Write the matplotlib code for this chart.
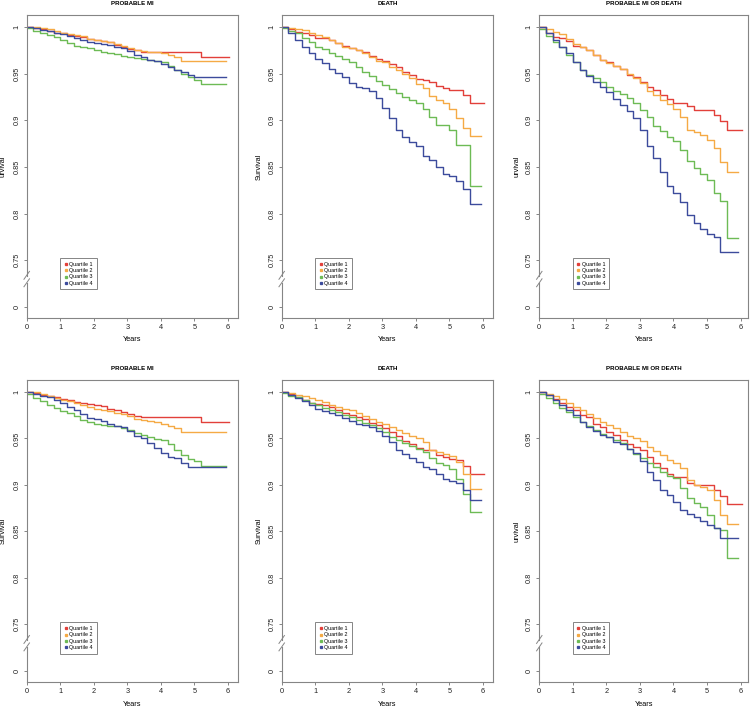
import matplotlib.pyplot as plt
from matplotlib.lines import Line2D

plt.rcParams['font.family'] = ['Liberation Sans', 'DejaVu Sans']

# time grid (years) and where each quartile's curve stops
years = [0.0, 0.2, 0.4, 0.6, 0.8, 1.0, 1.2, 1.4, 1.6, 1.8,
         2.0, 2.2, 2.4, 2.6, 2.8, 3.0, 3.2, 3.4, 3.6, 3.8,
         4.0, 4.2, 4.4, 4.6, 4.8, 5.0, 5.2, 5.4, 5.6, 5.8]
end_years = [6.03, 5.93, 5.93, 5.93]

quartiles = ['Quartile 1', 'Quartile 2', 'Quartile 3', 'Quartile 4']
colors = ['#e2403a', '#f5aa45', '#6dbb55', '#3c4b9c']
titles = ['PROBABLE MI', 'DEATH', 'PROBABLE MI OR DEATH']
ylabels_top = ['urvival', 'Survival', 'urvival']
ylabels_bottom = ['Survival', 'Survival', 'urvival']

ytick_pos = [0.70, 0.75, 0.80, 0.85, 0.90, 0.95, 1.00]
ytick_lab = ['0', '0.75', '0.8', '0.85', '0.9', '0.95', '1']
xtick_pos = [0, 1, 2, 3, 4, 5, 6]

# ---- top row ----
top_mi_q1 = [1.0, 0.999, 0.998, 0.996, 0.994, 0.993, 0.991, 0.990, 0.989, 0.987,
             0.986, 0.985, 0.984, 0.981, 0.978, 0.976, 0.975, 0.973, 0.973, 0.973,
             0.973, 0.973, 0.973, 0.973, 0.973, 0.973, 0.968, 0.968, 0.968, 0.968]
top_mi_q2 = [1.0, 1.0, 0.999, 0.998, 0.996, 0.994, 0.992, 0.991, 0.990, 0.987,
             0.986, 0.985, 0.984, 0.982, 0.980, 0.977, 0.975, 0.974, 0.9735, 0.973,
             0.972, 0.970, 0.968, 0.964, 0.963, 0.963, 0.963, 0.963, 0.963, 0.963]
top_mi_q3 = [0.999, 0.996, 0.994, 0.991, 0.989, 0.986, 0.983, 0.980, 0.978, 0.977,
             0.975, 0.973, 0.972, 0.971, 0.969, 0.968, 0.967, 0.966, 0.965, 0.963,
             0.962, 0.958, 0.954, 0.950, 0.946, 0.943, 0.939, 0.939, 0.939, 0.939]
top_mi_q4 = [1.0, 0.999, 0.997, 0.996, 0.994, 0.992, 0.990, 0.988, 0.986, 0.984,
             0.983, 0.982, 0.981, 0.978, 0.977, 0.974, 0.970, 0.968, 0.965, 0.963,
             0.960, 0.957, 0.954, 0.952, 0.949, 0.946, 0.946, 0.946, 0.946, 0.946]

top_death_q1 = [1.0, 0.998, 0.995, 0.994, 0.991, 0.988, 0.988, 0.986, 0.983, 0.980,
                0.977, 0.975, 0.973, 0.969, 0.966, 0.963, 0.960, 0.957, 0.952, 0.948,
                0.944, 0.943, 0.941, 0.937, 0.935, 0.932, 0.932, 0.927, 0.919, 0.919]
top_death_q2 = [1.0, 0.999, 0.998, 0.997, 0.994, 0.991, 0.989, 0.986, 0.983, 0.979,
                0.977, 0.975, 0.972, 0.968, 0.964, 0.962, 0.957, 0.954, 0.950, 0.945,
                0.939, 0.935, 0.926, 0.922, 0.918, 0.912, 0.902, 0.892, 0.883, 0.883]
top_death_q3 = [0.999, 0.996, 0.993, 0.988, 0.984, 0.979, 0.976, 0.972, 0.969, 0.966,
                0.962, 0.957, 0.952, 0.947, 0.942, 0.938, 0.933, 0.929, 0.925, 0.922,
                0.919, 0.912, 0.903, 0.895, 0.895, 0.890, 0.873, 0.873, 0.830, 0.830]
top_death_q4 = [1.0, 0.994, 0.986, 0.979, 0.972, 0.966, 0.961, 0.955, 0.951, 0.946,
                0.940, 0.936, 0.935, 0.931, 0.924, 0.913, 0.902, 0.889, 0.882, 0.877,
                0.872, 0.862, 0.857, 0.850, 0.842, 0.840, 0.835, 0.826, 0.810, 0.810]

top_both_q1 = [1.0, 0.993, 0.989, 0.988, 0.985, 0.980, 0.978, 0.975, 0.970, 0.965,
               0.962, 0.958, 0.955, 0.948, 0.946, 0.941, 0.936, 0.932, 0.927, 0.923,
               0.918, 0.918, 0.915, 0.911, 0.911, 0.911, 0.906, 0.899, 0.890, 0.890]
top_both_q2 = [1.0, 0.998, 0.995, 0.992, 0.987, 0.982, 0.979, 0.975, 0.970, 0.965,
               0.961, 0.958, 0.955, 0.950, 0.945, 0.940, 0.931, 0.927, 0.922, 0.917,
               0.912, 0.903, 0.890, 0.887, 0.884, 0.879, 0.870, 0.855, 0.845, 0.845]
top_both_q3 = [0.998, 0.990, 0.984, 0.978, 0.970, 0.962, 0.954, 0.949, 0.945, 0.941,
               0.936, 0.931, 0.928, 0.924, 0.918, 0.911, 0.903, 0.894, 0.888, 0.882,
               0.878, 0.868, 0.856, 0.849, 0.842, 0.836, 0.822, 0.813, 0.774, 0.774]
top_both_q4 = [1.0, 0.993, 0.986, 0.979, 0.972, 0.962, 0.954, 0.947, 0.941, 0.936,
               0.930, 0.923, 0.916, 0.910, 0.902, 0.890, 0.872, 0.860, 0.845, 0.830,
               0.822, 0.812, 0.798, 0.790, 0.783, 0.778, 0.775, 0.759, 0.759, 0.759]

# ---- bottom row ----
bot_mi_q1 = [1.0, 0.999, 0.997, 0.996, 0.994, 0.992, 0.991, 0.989, 0.988, 0.987,
             0.986, 0.985, 0.982, 0.980, 0.978, 0.976, 0.974, 0.973, 0.973, 0.973,
             0.973, 0.973, 0.973, 0.973, 0.973, 0.973, 0.968, 0.968, 0.968, 0.968]
bot_mi_q2 = [1.0, 1.0, 0.998, 0.996, 0.993, 0.991, 0.990, 0.988, 0.986, 0.984,
             0.982, 0.980, 0.979, 0.977, 0.976, 0.974, 0.971, 0.970, 0.969, 0.968,
             0.966, 0.963, 0.961, 0.957, 0.957, 0.957, 0.957, 0.957, 0.957, 0.957]
bot_mi_q3 = [0.998, 0.993, 0.990, 0.986, 0.983, 0.979, 0.977, 0.974, 0.970, 0.968,
             0.966, 0.964, 0.963, 0.963, 0.961, 0.959, 0.956, 0.954, 0.952, 0.949,
             0.948, 0.944, 0.938, 0.932, 0.928, 0.926, 0.920, 0.920, 0.920, 0.920]
bot_mi_q4 = [1.0, 0.998, 0.996, 0.994, 0.991, 0.988, 0.984, 0.980, 0.976, 0.972,
             0.971, 0.969, 0.966, 0.963, 0.962, 0.958, 0.953, 0.950, 0.945, 0.940,
             0.934, 0.930, 0.929, 0.924, 0.919, 0.919, 0.919, 0.919, 0.919, 0.919]

bot_death_q1 = [1.0, 0.998, 0.994, 0.991, 0.988, 0.987, 0.986, 0.984, 0.981, 0.977,
                0.975, 0.973, 0.971, 0.967, 0.964, 0.961, 0.957, 0.953, 0.947, 0.944,
                0.940, 0.938, 0.937, 0.932, 0.930, 0.928, 0.927, 0.920, 0.912, 0.912]
bot_death_q2 = [1.0, 0.999, 0.997, 0.996, 0.993, 0.991, 0.989, 0.986, 0.984, 0.982,
                0.980, 0.977, 0.974, 0.971, 0.968, 0.966, 0.962, 0.959, 0.956, 0.953,
                0.950, 0.946, 0.938, 0.935, 0.933, 0.931, 0.925, 0.912, 0.896, 0.896]
bot_death_q3 = [0.999, 0.996, 0.994, 0.991, 0.988, 0.986, 0.983, 0.980, 0.978, 0.975,
                0.973, 0.970, 0.967, 0.964, 0.961, 0.957, 0.952, 0.948, 0.945, 0.942,
                0.939, 0.935, 0.929, 0.923, 0.921, 0.917, 0.906, 0.890, 0.871, 0.871]
bot_death_q4 = [1.0, 0.997, 0.993, 0.990, 0.986, 0.982, 0.979, 0.977, 0.975, 0.972,
                0.969, 0.965, 0.964, 0.962, 0.958, 0.953, 0.946, 0.938, 0.933, 0.929,
                0.925, 0.919, 0.917, 0.912, 0.906, 0.904, 0.902, 0.894, 0.884, 0.884]

bot_both_q1 = [1.0, 0.997, 0.992, 0.988, 0.984, 0.980, 0.975, 0.973, 0.966, 0.962,
               0.957, 0.954, 0.948, 0.944, 0.941, 0.937, 0.930, 0.924, 0.918, 0.912,
               0.908, 0.908, 0.902, 0.900, 0.900, 0.900, 0.894, 0.888, 0.879, 0.879]
bot_both_q2 = [1.0, 0.998, 0.996, 0.992, 0.988, 0.984, 0.980, 0.976, 0.972, 0.968,
               0.964, 0.961, 0.957, 0.953, 0.950, 0.947, 0.941, 0.936, 0.932, 0.927,
               0.923, 0.918, 0.905, 0.900, 0.898, 0.894, 0.884, 0.868, 0.858, 0.858]
bot_both_q3 = [0.998, 0.993, 0.988, 0.983, 0.978, 0.973, 0.968, 0.963, 0.959, 0.955,
               0.951, 0.948, 0.945, 0.939, 0.933, 0.929, 0.924, 0.919, 0.914, 0.910,
               0.907, 0.897, 0.886, 0.880, 0.876, 0.868, 0.854, 0.852, 0.821, 0.821]
bot_both_q4 = [1.0, 0.997, 0.991, 0.986, 0.981, 0.975, 0.968, 0.962, 0.958, 0.954,
               0.951, 0.946, 0.944, 0.939, 0.934, 0.926, 0.914, 0.905, 0.895, 0.889,
               0.882, 0.873, 0.869, 0.865, 0.861, 0.857, 0.854, 0.843, 0.843, 0.843]

panels = [
    [[top_mi_q1, top_mi_q2, top_mi_q3, top_mi_q4],
     [top_death_q1, top_death_q2, top_death_q3, top_death_q4],
     [top_both_q1, top_both_q2, top_both_q3, top_both_q4]],
    [[bot_mi_q1, bot_mi_q2, bot_mi_q3, bot_mi_q4],
     [bot_death_q1, bot_death_q2, bot_death_q3, bot_death_q4],
     [bot_both_q1, bot_both_q2, bot_both_q3, bot_both_q4]],
]

W, H = 750, 707
fig = plt.figure(figsize=(W / 100, H / 100), dpi=100)

gray = '#858585'
px_per_year = 33.55
col_left = [26.7, 281.7, 539.3]
col_xmax = [6.3, 6.3, 6.22]
rows = [(15, 318), (380, 682)]
ylab_x = [3, 259, 517]
y_lo, y_hi = 0.688, 1.0128

for r, (top, bottom) in enumerate(rows):
    for c in range(3):
        width = col_xmax[c] * px_per_year
        ax = fig.add_axes([col_left[c] / W, 1 - bottom / H,
                           width / W, (bottom - top) / H])
        for q in range(4):
            vals = panels[r][c][q]
            ax.plot(years + [end_years[q]], vals + [vals[-1]],
                    drawstyle='steps-post', color=colors[q], lw=1.0)
        ax.set_xlim(0, col_xmax[c])
        ax.set_ylim(y_lo, y_hi)
        ax.set_xticks(xtick_pos)
        ax.set_yticks(ytick_pos)
        ax.set_yticklabels(ytick_lab, rotation=90, va='center')
        ax.tick_params(direction='out', length=2.2, width=0.7, color=gray,
                       labelsize=5.3, pad=2.4, labelcolor='#222222')
        for side in ['top', 'right', 'bottom']:
            ax.spines[side].set_color(gray)
            ax.spines[side].set_linewidth(0.8)
        ax.spines['left'].set_visible(False)

        # broken y axis between 0 and 0.75
        trans = ax.get_yaxis_transform()
        ax.plot([0, 0], [y_lo, 0.7255], transform=trans, color=gray,
                lw=0.8, clip_on=False)
        ax.plot([0, 0], [0.7335, y_hi], transform=trans, color=gray,
                lw=0.8, clip_on=False)
        for y0 in [0.7215, 0.7295]:
            ax.plot([-0.013, 0.013], [y0, y0 + 0.0085], transform=trans,
                    color=gray, lw=0.7, clip_on=False)

        handles = [Line2D([], [], marker='s', ls='none', markersize=1.4,
                          color=colors[q]) for q in range(4)]
        ax.legend(handles, quartiles, loc='upper left',
                  bbox_to_anchor=(1.0, 0.752), bbox_transform=ax.transData,
                  fontsize=3.9, frameon=True, fancybox=False,
                  edgecolor=gray, framealpha=1, borderaxespad=0,
                  handlelength=0.6, handletextpad=0.4, borderpad=0.7,
                  labelspacing=0.22)
        ax.get_legend().get_frame().set_linewidth(0.7)

        cx = (col_left[c] + width / 2) / W
        fig.text(cx, 1 - (top - 11.5) / H, titles[c], ha='center',
                 va='center', fontsize=4.4, fontweight='bold')
        fig.text(cx, 1 - (bottom + 22) / H, 'Years', ha='center',
                 va='center', fontsize=5.3)
        labels = ylabels_top if r == 0 else ylabels_bottom
        fig.text(ylab_x[c] / W, 1 - (top + bottom) / 2 / H, labels[c],
                 rotation=90, ha='center', va='center', fontsize=5.3)

fig.savefig('out.png', dpi=100)
